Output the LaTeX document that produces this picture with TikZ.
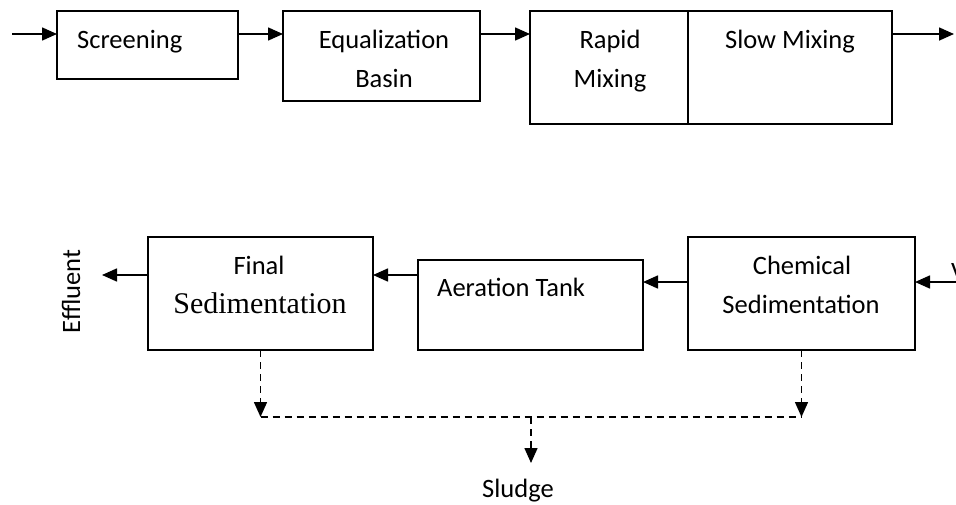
\documentclass[tikz,border=0pt]{standalone}
\usepackage{fontspec}
\setmainfont{Carlito}
\newfontfamily\timesfont{Liberation Serif}
\usetikzlibrary{arrows.meta}

\begin{document}
\begin{tikzpicture}[x=1pt,y=-1pt,
  box/.style={draw,line width=1.6pt,anchor=north west,inner sep=0pt,outer sep=0pt},
  lbl/.style={anchor=base,inner sep=0pt,font=\fontsize{26.5}{32}\selectfont},
  serif/.style={anchor=base,inner sep=0pt,font=\timesfont\fontsize{30}{36}\selectfont},
  tipstyle/.style={-{Triangle[length=15pt,width=13pt]}},
  flow/.style={line width=1.6pt,tipstyle},
  sludgeflow/.style={line width=1.5pt,dash pattern=on 7pt off 5pt},
  sludgearrow/.style={sludgeflow,tipstyle}]

\useasboundingbox (0,0) rectangle (956,504);

% process units, upper train
\node[box,minimum width=181pt,minimum height=68pt]  (scr)   at (57,11)  {};
\node[box,minimum width=197pt,minimum height=90pt]  (eq)    at (283,11) {};
\node[box,minimum width=158pt,minimum height=113pt] (rapid) at (530,11) {};
\node[box,minimum width=204pt,minimum height=113pt] (slow)  at (688,11) {};

% process units, lower train
\node[box,minimum width=225pt,minimum height=113pt] (fin)  at (148,237) {};
\node[box,minimum width=225pt,minimum height=90pt]  (aer)  at (418,260) {};
\node[box,minimum width=227pt,minimum height=113pt] (chem) at (688,237) {};

% labels
\node[lbl,anchor=base west] (tscr) at (77,48) {Screening};
\node[lbl] (teq1) at (384,48) {Equalization};
\node[lbl] (teq2) at (384,87) {Basin};
\node[lbl] (tra1) at (610,48) {Rapid};
\node[lbl] (tra2) at (610,87) {Mixing};
\node[lbl] (tslow) at (790,48) {Slow Mixing};
\node[lbl] (tfin1) at (259,274) {Final};
\node[serif] (tfin2) at (260,313) {Sedimentation};
\node[lbl,anchor=base west] (taer) at (437,296) {Aeration Tank};
\node[lbl] (tch1) at (802,274) {Chemical};
\node[lbl] (tch2) at (801,313) {Sedimentation};
\node[lbl,rotate=90] (teff) at (80,291.5) {Effluent};
\node[lbl] (tsl) at (518,497) {Sludge};
\node[lbl,anchor=base west] (tin) at (951,280) {V};

% flow path coordinates
\coordinate (inA)  at (12,34);
\coordinate (outA) at (954,34);
\coordinate (inB)  at (956,282);
\coordinate (rowC) at (0,275);
\coordinate (effEnd) at (102,275);
\coordinate (jy)   at (0,417);
\coordinate (mid)  at (531,417);
\coordinate (tip)  at (531,463);

% main flow, upper train
\draw[flow] (inA) -- (scr.west |- inA);
\draw[flow] (scr.east |- inA) -- (eq.west |- inA);
\draw[flow] (eq.east |- inA) -- (rapid.west |- inA);
\draw[flow] (slow.east |- inA) -- (outA);

% main flow, lower train
\draw[flow] (inB) -- (chem.east |- inB);
\draw[flow] (chem.west |- inB) -- (aer.east |- inB);
\draw[flow] (aer.west |- rowC) -- (fin.east |- rowC);
\draw[flow] (fin.west |- rowC) -- (effEnd);

% sludge withdrawal
\draw[sludgearrow] (fin.south) -- (fin.south |- jy);
\draw[sludgearrow] (chem.south) -- (chem.south |- jy);
\draw[sludgeflow] (fin.south |- jy) -- (chem.south |- jy);
\draw[sludgearrow] (mid) -- (tip);

\end{tikzpicture}
\end{document}
